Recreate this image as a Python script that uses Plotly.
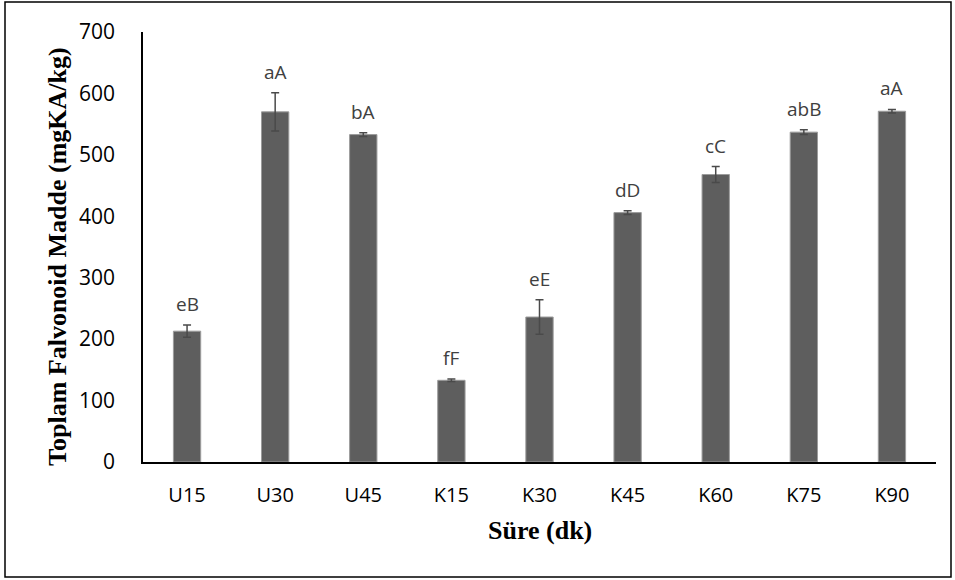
import plotly.graph_objects as go

# Sample groups and measured total flavonoid content
categories = ["U15", "U30", "U45", "K15", "K30", "K45", "K60", "K75", "K90"]
means = [213, 570, 533, 133, 236, 406, 468, 537, 571]
errors = [10, 31, 3, 2, 28, 3, 13, 4, 3]
letters = ["eB", "aA", "bA", "fF", "eE", "dD", "cC", "abB", "aA"]
y_ticks = [0, 100, 200, 300, 400, 500, 600, 700]

W, H = 955, 580
L, R, T, B = 143, 19, 32, 118
pw, ph = W - L - R, H - T - B

fig = go.Figure()
fig.add_trace(go.Bar(
    x=categories, y=means,
    marker=dict(color="#5e5e5e", line=dict(color="#9c9c9c", width=1)),
    error_y=dict(type="data", array=errors, visible=True,
                 color="#4a4a4a", thickness=1.5, width=4),
    width=0.31,
    showlegend=False,
))

# Significance letters above each error bar
for c, m, e, t in zip(categories, means, errors, letters):
    fig.add_annotation(x=c, y=m + e, text=t, showarrow=False,
                       yanchor="bottom", yshift=6,
                       font=dict(family="Open Sans", size=19, color="#404040"))

# Axis titles
fig.add_annotation(xref="paper", yref="paper",
                   x=(57 - L) / pw, y=(H - B - 257) / ph,
                   text="<b>Toplam Falvonoid Madde (mgKA/kg)</b>",
                   textangle=-90, showarrow=False,
                   xanchor="center", yanchor="middle",
                   font=dict(family="Liberation Serif", size=26, color="black"))
fig.add_annotation(xref="paper", yref="paper",
                   x=0.5, y=(H - B - 530) / ph,
                   text="<b>Süre (dk)</b>", showarrow=False,
                   xanchor="center", yanchor="middle",
                   font=dict(family="Liberation Serif", size=26, color="black"))

# Outer frame around the whole chart
fig.add_shape(type="rect", xref="paper", yref="paper",
              x0=(5 - L) / pw, x1=(951 - L) / pw,
              y0=(H - B - 577) / ph, y1=(H - B - 2) / ph,
              line=dict(color="black", width=1.5), fillcolor="rgba(0,0,0,0)")

fig.update_layout(
    width=W, height=H,
    margin=dict(l=L, r=R, t=T, b=B),
    paper_bgcolor="white", plot_bgcolor="white",
    font=dict(family="Open Sans", color="black"),
    xaxis=dict(showline=True, linecolor="black", linewidth=2,
               showgrid=False, ticks="", zeroline=False,
               tickfont=dict(size=20, color="black"),
               ticklabelstandoff=14),
    yaxis=dict(range=[0, 700], tickvals=y_ticks,
               showline=True, linecolor="black", linewidth=1.5,
               showgrid=False, ticks="", zeroline=False,
               tickfont=dict(size=21, color="black"),
               ticklabelstandoff=22),
)

fig.write_html("out.html")
